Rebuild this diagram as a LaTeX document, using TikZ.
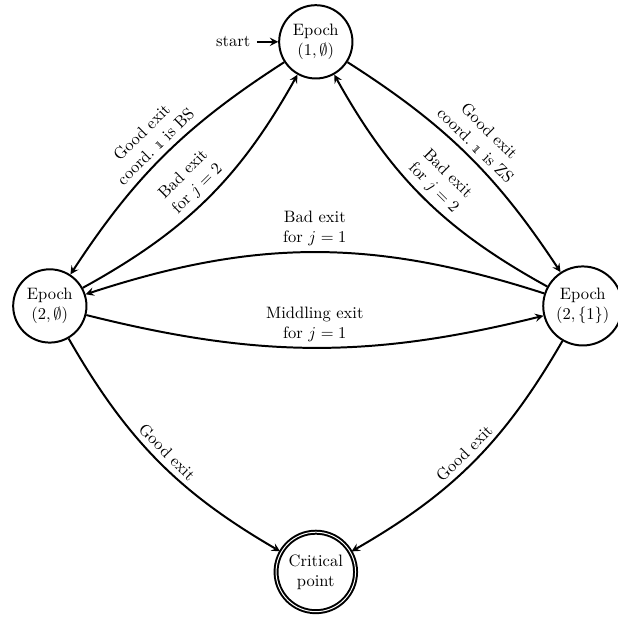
\documentclass[tikz,border=0pt]{standalone}
\usepackage{tikz}
\usetikzlibrary{arrows, automata}

\begin{document}
\begin{tikzpicture}[>=stealth, very thick,
        every state/.style={draw, very thick, align=center},
        lbl/.style={sloped, align=center}]
        % Margini come nel riferimento
        \useasboundingbox (-6.72,-6.64) rectangle (6.43,6.51);
        
        % Stati
        \node[state, initial, initial text=start] (ep1) at (0,5.62) {Epoch\\$(1,\emptyset)$};
        \node[state] (ep2a) at (-5.66,0) {Epoch\\$(2,\emptyset)$};
        \node[state] (ep2b) at (5.68,0) {Epoch\\$(2,\{1\})$};
        \node[state, accepting] (crit) at (0,-5.66) {Critical\\point};
        
        % Transizioni in alto
        \path[->]
        (ep1) edge[bend right=12] node[lbl, above] {Good exit\\coord.~\oldstylenums{1} is BS} (ep2a)
        (ep2a) edge[bend right=16] node[lbl, above] {Bad exit\\for $j=2$} (ep1)
        (ep1) edge[bend left=12] node[lbl, above] {Good exit\\coord.~\oldstylenums{1} is ZS} (ep2b)
        (ep2b) edge[bend left=16] node[lbl, above] {Bad exit\\for $j=2$} (ep1);
        
        % Transizioni orizzontali
        \path[->]
        (ep2b) edge[bend right=18] node[above, align=center] {Bad exit\\for $j=1$} (ep2a)
        (ep2a) edge[bend right=14] node[above, align=center] {Middling exit\\for $j=1$} (ep2b);
        
        % Verso il punto critico
        \path[->]
        (ep2a) edge[bend right=15] node[lbl, above] {Good exit} (crit)
        (ep2b) edge[bend left=15] node[lbl, above] {Good exit} (crit);
        
    \end{tikzpicture}
\end{document}
